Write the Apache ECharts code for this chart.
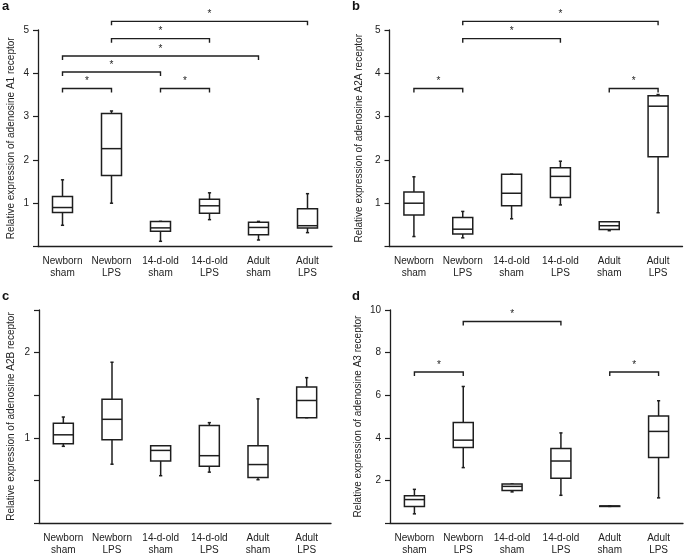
<!DOCTYPE html>
<html>
<head>
<meta charset="utf-8">
<script src="https://cdn.jsdelivr.net/npm/echarts@6/dist/echarts.min.js"></script>
<style>
html,body{margin:0;padding:0;background:#fff;}
#chart{width:685px;height:556px;}
</style>
</head>
<body>
<div id="chart"></div>
<script>
// ---- data ----
const categories = ['Newborn\nsham', 'Newborn\nLPS', '14-d-old\nsham', '14-d-old\nLPS', 'Adult\nsham', 'Adult\nLPS'];

// box statistics: [min, Q1, median, Q3, max]
const statsA1 = [
  [0.49, 0.785, 0.90, 1.155, 1.54],
  [1.00, 1.64, 2.26, 3.07, 3.13],
  [0.12, 0.35, 0.43, 0.58, 0.58],
  [0.62, 0.77, 0.94, 1.09, 1.24],
  [0.15, 0.27, 0.44, 0.56, 0.58],
  [0.32, 0.43, 0.48, 0.87, 1.22]
];
const statsA2A = [
  [0.23, 0.73, 1.00, 1.26, 1.61],
  [0.20, 0.29, 0.40, 0.67, 0.81],
  [0.64, 0.94, 1.23, 1.67, 1.67],
  [0.96, 1.13, 1.62, 1.82, 1.97],
  [0.365, 0.39, 0.48, 0.57, 0.57],
  [0.78, 2.07, 3.24, 3.48, 3.51]
];
const statsA2B = [
  [0.90, 0.93, 1.035, 1.17, 1.244],
  [0.69, 0.977, 1.217, 1.453, 1.887],
  [0.555, 0.729, 0.852, 0.907, 0.907],
  [0.597, 0.666, 0.79, 1.144, 1.178],
  [0.508, 0.535, 0.686, 0.907, 1.457],
  [1.236, 1.236, 1.438, 1.597, 1.706]
];
const statsA3 = [
  [0.43, 0.77, 1.10, 1.28, 1.58],
  [2.60, 3.55, 3.89, 4.72, 6.41],
  [1.46, 1.53, 1.72, 1.83, 1.83],
  [1.30, 2.10, 2.91, 3.50, 4.23],
  [0.78, 0.78, 0.79, 0.80, 0.80],
  [1.18, 3.07, 4.30, 5.02, 5.74]
];

// significance brackets: [fromIndex, toIndex, height]
const sigA1 = [[0, 1, 3.65], [2, 3, 3.65], [0, 2, 4.03], [0, 4, 4.40], [1, 3, 4.80], [1, 5, 5.20]];
const sigA2A = [[0, 1, 3.65], [4, 5, 3.65], [1, 3, 4.80], [1, 5, 5.20]];
const sigA2B = [];
const sigA3 = [[0, 1, 7.09], [4, 5, 7.09], [1, 3, 9.46]];

const yTitles = [
  'Relative expression of adenosine A1 receptor',
  'Relative expression of adenosine A2A receptor',
  'Relative expression of adenosine A2B receptor',
  'Relative expression of adenosine A3 receptor'
];
const panelLetters = ['a', 'b', 'c', 'd'];

// ---- chart ----
const INK = '#1e1e1e';
const FONT = "'Liberation Sans', Arial, sans-serif";

const grids = [
  {left: 38, top: 30, width: 294, height: 216.5},
  {left: 389.5, top: 30, width: 293, height: 216.5},
  {left: 39, top: 310, width: 292, height: 215.3},
  {left: 390, top: 310, width: 293, height: 215.3}
];
const yCfg = [
  {max: 5, interval: 1, gap: 22, show: v => v === 0 ? '' : String(v)},
  {max: 5, interval: 1, gap: 25, show: v => v === 0 ? '' : String(v)},
  {max: 2.5, interval: 0.5, gap: 23, show: v => (v === 1 || v === 2) ? String(v) : ''},
  {max: 10, interval: 2, gap: 27, show: v => v === 0 ? '' : String(v)}
];
const allStats = [statsA1, statsA2A, statsA2B, statsA3];
const allSig = [sigA1, sigA2A, sigA2B, sigA3];

function renderBox(params, api) {
  const idx = api.value(0);
  const vals = [api.value(1), api.value(2), api.value(3), api.value(4), api.value(5)];
  const ys = vals.map(v => api.coord([idx, v])[1]);
  const x = api.coord([idx, vals[2]])[0];
  const hw = 10, cw = 1.6;
  const st = {stroke: INK, lineWidth: 1.5, fill: null};
  const ch = [];
  ch.push({type: 'line', shape: {x1: x, y1: ys[0], x2: x, y2: ys[1]}, style: st});
  ch.push({type: 'line', shape: {x1: x, y1: ys[3], x2: x, y2: ys[4]}, style: st});
  ch.push({type: 'line', shape: {x1: x - cw, y1: ys[0], x2: x + cw, y2: ys[0]}, style: st});
  ch.push({type: 'line', shape: {x1: x - cw, y1: ys[4], x2: x + cw, y2: ys[4]}, style: st});
  ch.push({type: 'rect', shape: {x: x - hw, y: ys[3], width: 2 * hw, height: Math.max(ys[1] - ys[3], 0.5)}, style: {stroke: INK, lineWidth: 1.5, fill: '#fff'}});
  ch.push({type: 'line', shape: {x1: x - hw, y1: ys[2], x2: x + hw, y2: ys[2]}, style: st});
  return {type: 'group', children: ch};
}

function renderSig(params, api) {
  const i = api.value(0), j = api.value(1), h = api.value(2);
  const p1 = api.coord([i, h]);
  const p2 = api.coord([j, h]);
  const leg = 4;
  return {
    type: 'group',
    children: [
      {type: 'polyline', shape: {points: [[p1[0], p1[1] + leg], [p1[0], p1[1]], [p2[0], p2[1]], [p2[0], p2[1] + leg]]},
        style: {stroke: INK, lineWidth: 1.4, fill: null}},
      {type: 'text', x: (p1[0] + p2[0]) / 2, y: p1[1] - 2,
        style: {text: '*', fill: INK, font: '10px ' + FONT, textAlign: 'center', textVerticalAlign: 'bottom'}}
    ]
  };
}

const option = {
  animation: false,
  backgroundColor: '#fff',
  textStyle: {fontFamily: FONT},
  grid: grids.map(g => Object.assign({containLabel: false}, g)),
  title: panelLetters.map((t, k) => ({
    text: t,
    left: [2, 352, 2, 352][k],
    top: [0, 0, 290, 290][k],
    padding: 0,
    textStyle: {fontSize: 13, fontWeight: 'bold', color: '#111', fontFamily: FONT}
  })),
  xAxis: grids.map((g, k) => ({
    type: 'category',
    gridIndex: k,
    data: categories,
    boundaryGap: true,
    axisLine: {lineStyle: {color: INK, width: 1.3}},
    axisTick: {alignWithLabel: true, length: 4, lineStyle: {color: INK, width: 1.2}},
    axisLabel: {color: '#222', fontSize: 10, lineHeight: 12, margin: 9, interval: 0, fontFamily: FONT},
    splitLine: {show: false}
  })),
  yAxis: grids.map((g, k) => ({
    type: 'value',
    gridIndex: k,
    min: 0,
    max: yCfg[k].max,
    interval: yCfg[k].interval,
    name: yTitles[k],
    nameLocation: 'middle',
    nameGap: yCfg[k].gap,
    nameTextStyle: {color: '#222', fontSize: 10, fontFamily: FONT},
    axisLine: {show: true, lineStyle: {color: INK, width: 1.3}},
    axisTick: {show: true, length: 5, lineStyle: {color: INK, width: 1.2}},
    axisLabel: {color: '#222', fontSize: 10, margin: 9, fontFamily: FONT, formatter: yCfg[k].show},
    splitLine: {show: false}
  })),
  series: []
};

allStats.forEach((stats, k) => {
  option.series.push({
    type: 'custom',
    xAxisIndex: k,
    yAxisIndex: k,
    renderItem: renderBox,
    encode: {x: 0, y: [1, 2, 3, 4, 5]},
    data: stats.map((s, i) => [i].concat(s))
  });
  option.series.push({
    type: 'custom',
    xAxisIndex: k,
    yAxisIndex: k,
    renderItem: renderSig,
    encode: {x: [0, 1], y: 2},
    data: allSig[k]
  });
});

const chart = echarts.init(document.getElementById('chart'), null, {renderer: 'canvas'});
chart.setOption(option);
</script>
</body>
</html>
